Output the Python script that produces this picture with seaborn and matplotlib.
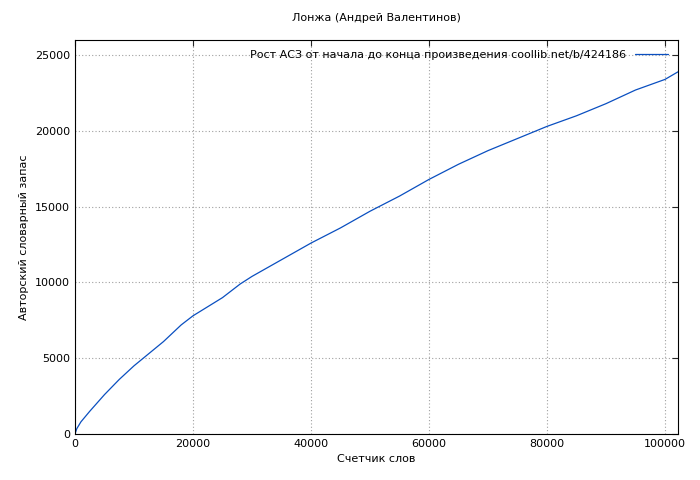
import matplotlib
matplotlib.use("Agg")
import matplotlib.pyplot as plt
import seaborn as sns
import pandas as pd

words = [0, 300, 1000, 2500, 5000, 7500, 10000, 15000, 18000, 20000, 25000, 28000, 30000,
         35000, 40000, 45000, 50000, 55000, 60000, 65000, 70000, 75000, 80000,
         85000, 90000, 95000, 100000, 102200]
vocab = [0, 350, 800, 1500, 2600, 3600, 4500, 6100, 7200, 7800, 9000, 9900, 10400,
         11500, 12600, 13600, 14700, 15700, 16800, 17800, 18700, 19500, 20300,
         21000, 21800, 22700, 23400, 23900]
df = pd.DataFrame({"words": words, "vocab": vocab})

sns.set_style("white")
plt.rcParams["font.family"] = ["DejaVu Sans"]
fig = plt.figure(figsize=(7, 4.8), dpi=100)
ax = fig.add_axes([75 / 700, 46 / 480, 603 / 700, 394 / 480])

sns.lineplot(data=df, x="words", y="vocab", ax=ax, color="#0a4fc0", linewidth=0.9,
             label="Рост АСЗ от начала до конца произведения coollib.net/b/424186")

ax.set_xlim(0, 102200)
ax.set_ylim(0, 26000)
ax.set_xticks(range(0, 100001, 20000))
ax.set_yticks(range(0, 25001, 5000))
ax.grid(True, color="#a0a0a0", linestyle=(0, (1, 2)), linewidth=0.8)
for s in ax.spines.values():
    s.set_color("black")
    s.set_linewidth(0.8)
ax.tick_params(labelsize=8, direction="in", length=4, top=True, right=True, labelcolor="black")
ax.set_xlabel("Счетчик слов", fontsize=8, color="black")
ax.set_ylabel("Авторский словарный запас", fontsize=8, color="black")
ax.set_title("Лонжа (Андрей Валентинов)", fontsize=8, pad=14, color="black")
leg = ax.legend(loc="upper right", fontsize=8, frameon=False, markerfirst=False,
                handlelength=3)
for t in leg.get_texts():
    t.set_color("black")

fig.savefig("out.png", dpi=100)
